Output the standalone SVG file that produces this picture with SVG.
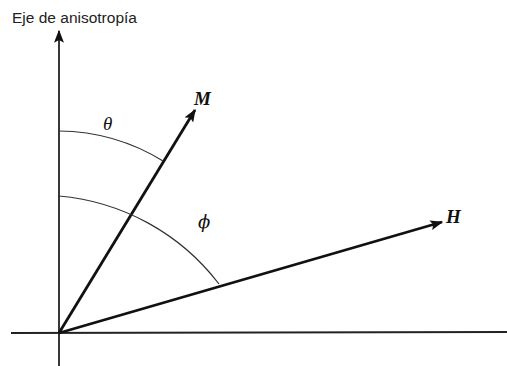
<svg xmlns="http://www.w3.org/2000/svg" width="507" height="366" viewBox="0 0 507 366">
<defs>
<marker id="ah2" viewBox="0 0 10 10" refX="9" refY="5" markerWidth="13" markerHeight="10" markerUnits="userSpaceOnUse" orient="auto" preserveAspectRatio="none">
<path d="M0,0 L10,5 L0,10 L2,5 z" fill="#111"/>
</marker>
<style>
.axis{stroke:#222;stroke-width:1.8;fill:none}
.vec{stroke:#111;stroke-width:2.8;fill:none}
.arc{stroke:#333;stroke-width:1.2;fill:none}
.sym{font-family:"Liberation Serif",serif;font-style:italic;fill:#111}
.phi{font-family:"DejaVu Serif",serif;font-style:italic;fill:#111}
.lbl{font-family:"Liberation Sans",Arial,sans-serif;font-size:15.5px;fill:#222}
</style>
</defs>
<rect width="507" height="366" fill="#fff"/>
<g id="axes">
<line class="axis" x1="11" y1="333" x2="507" y2="332"/>
<line class="axis" x1="59" y1="366" x2="59" y2="31" marker-end="url(#ah2)"/>
<text class="lbl" x="12" y="23">Eje de anisotropía</text>
</g>
<g id="connectors">
<line class="vec" x1="59" y1="333" x2="195" y2="110" marker-end="url(#ah2)"/>
<line class="vec" x1="59" y1="333" x2="442" y2="222" marker-end="url(#ah2)"/>
</g>
<g id="arc-theta">
<path class="arc" d="M59,131 A202,202 0 0 1 163,161"/>
<text class="sym" x="103" y="130" font-size="19">θ</text>
</g>
<g id="arc-phi">
<path class="arc" d="M59,196 A226,226 0 0 1 219,284"/>
<text class="phi" x="198" y="228" font-size="18">ϕ</text>
</g>
<g id="node-M">
<text class="sym" x="194" y="105" font-size="19" font-weight="bold">M</text>
</g>
<g id="node-H">
<text class="sym" x="446" y="223" font-size="19" font-weight="bold">H</text>
</g>
</svg>
